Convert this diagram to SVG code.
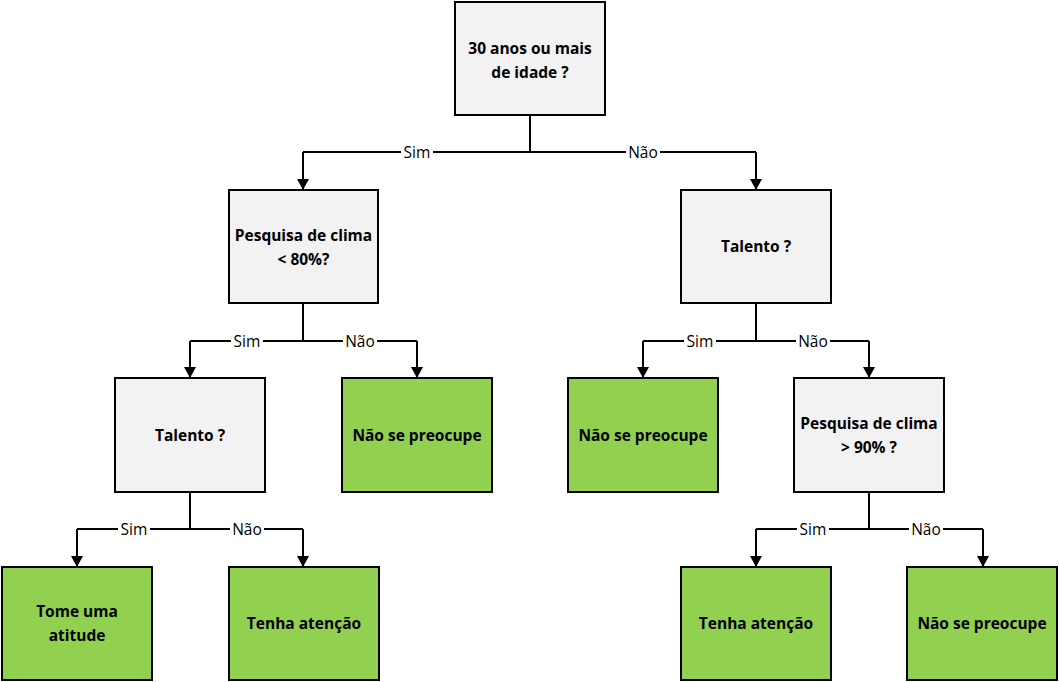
<svg xmlns="http://www.w3.org/2000/svg" width="1060" height="682" viewBox="0 0 1060 682">
<style>
.q{fill:#F2F2F2;stroke:#000;stroke-width:2}
.a{fill:#92D050;stroke:#000;stroke-width:2}
.t{font-family:"Open Sans","Liberation Sans",sans-serif;font-weight:bold;font-size:15.5px;text-anchor:middle;fill:#000}
.c{fill:none;stroke:#000;stroke-width:2}
.l{font-family:"Open Sans","Liberation Sans",sans-serif;font-size:15.5px;text-anchor:middle;fill:#000}
.lb{fill:#fff}
</style>
<defs>
<marker id="ar" markerWidth="11" markerHeight="12" refX="10" refY="6" orient="auto" markerUnits="userSpaceOnUse">
<path d="M0,0 L11,6 L0,12 Z" fill="#000"/>
</marker>
</defs>
<rect width="1060" height="682" fill="#fff"/>
<g id="connectors">
<path class="c" d="M530,115 V152 M303,152 H756"/>
<path class="c" d="M303,152 V189" marker-end="url(#ar)"/>
<path class="c" d="M756,152 V189" marker-end="url(#ar)"/>
<path class="c" d="M303,303 V341 M190,341 H417"/>
<path class="c" d="M190,341 V377" marker-end="url(#ar)"/>
<path class="c" d="M417,341 V377" marker-end="url(#ar)"/>
<path class="c" d="M756,303 V341 M643,341 H869"/>
<path class="c" d="M643,341 V377" marker-end="url(#ar)"/>
<path class="c" d="M869,341 V377" marker-end="url(#ar)"/>
<path class="c" d="M190,492 V529 M77,529 H303"/>
<path class="c" d="M77,529 V566" marker-end="url(#ar)"/>
<path class="c" d="M303,529 V566" marker-end="url(#ar)"/>
<path class="c" d="M869,492 V529 M756,529 H983"/>
<path class="c" d="M756,529 V566" marker-end="url(#ar)"/>
<path class="c" d="M983,529 V566" marker-end="url(#ar)"/>
<rect class="lb" x="401" y="143" width="32" height="18"/><text class="l" x="417" y="157.5">Sim</text>
<rect class="lb" x="626" y="143" width="34" height="18"/><text class="l" x="643" y="157.5">Não</text>
<rect class="lb" x="231" y="332" width="32" height="18"/><text class="l" x="247" y="346.5">Sim</text>
<rect class="lb" x="343" y="332" width="34" height="18"/><text class="l" x="360" y="346.5">Não</text>
<rect class="lb" x="684" y="332" width="32" height="18"/><text class="l" x="700" y="346.5">Sim</text>
<rect class="lb" x="796" y="332" width="34" height="18"/><text class="l" x="813" y="346.5">Não</text>
<rect class="lb" x="118" y="520" width="32" height="18"/><text class="l" x="134" y="534.5">Sim</text>
<rect class="lb" x="230" y="520" width="34" height="18"/><text class="l" x="247" y="534.5">Não</text>
<rect class="lb" x="797" y="520" width="32" height="18"/><text class="l" x="813" y="534.5">Sim</text>
<rect class="lb" x="909" y="520" width="34" height="18"/><text class="l" x="926" y="534.5">Não</text>
</g>
<g id="n_root"><rect class="q" x="455" y="2" width="150" height="113"/><text class="t" x="530" y="54">30 anos ou mais</text><text class="t" x="530" y="78">de idade ?</text></g>
<g id="n_clima80"><rect class="q" x="229" y="190" width="149" height="113"/><text class="t" x="303.5" y="241">Pesquisa de clima</text><text class="t" x="303.5" y="265">&lt; 80%?</text></g>
<g id="n_talento_r"><rect class="q" x="681" y="190" width="150" height="113"/><text class="t" x="756" y="252">Talento ?</text></g>
<g id="n_talento_l"><rect class="q" x="115" y="378" width="150" height="114"/><text class="t" x="190" y="441">Talento ?</text></g>
<g id="n_nsp1"><rect class="a" x="342" y="378" width="150" height="114"/><text class="t" x="417" y="441">Não se preocupe</text></g>
<g id="n_nsp2"><rect class="a" x="568" y="378" width="150" height="114"/><text class="t" x="643" y="441">Não se preocupe</text></g>
<g id="n_clima90"><rect class="q" x="794" y="378" width="150" height="114"/><text class="t" x="869" y="429">Pesquisa de clima</text><text class="t" x="869" y="453">&gt; 90% ?</text></g>
<g id="n_tome"><rect class="a" x="2" y="567" width="150" height="113"/><text class="t" x="77" y="617">Tome uma</text><text class="t" x="77" y="641">atitude</text></g>
<g id="n_tenha1"><rect class="a" x="229" y="567" width="150" height="113"/><text class="t" x="304" y="629">Tenha atenção</text></g>
<g id="n_tenha2"><rect class="a" x="681" y="567" width="150" height="113"/><text class="t" x="756" y="629">Tenha atenção</text></g>
<g id="n_nsp3"><rect class="a" x="907" y="567" width="150" height="113"/><text class="t" x="982" y="629">Não se preocupe</text></g>
</svg>
